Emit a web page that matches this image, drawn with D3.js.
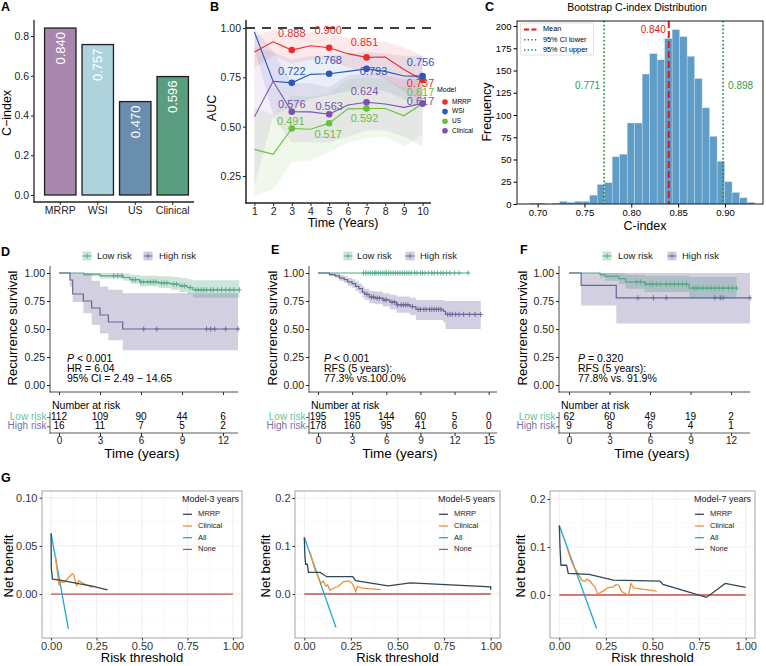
<!DOCTYPE html>
<html>
<head>
<meta charset="utf-8">
<script src="https://cdn.jsdelivr.net/npm/d3@7"></script>
<style>
  body { margin: 0; background: #fff; }
  svg { font-family: "Liberation Sans", Arial, Helvetica, sans-serif; }
</style>
</head>
<body>
<div id="app"></div>
<script>
/* global d3 */

// ---------- Data ----------
// A: C-index per model
const aModels = ['MRRP', 'WSI', 'US', 'Clinical'];
const aCindex = [0.840, 0.757, 0.470, 0.596];
const aColors = ['#a886ae', '#aed3dc', '#6a8ead', '#5a9d80'];

// B: time-dependent AUC
const years = [1, 2, 3, 4, 5, 6, 7, 8, 9, 10];
const aucMRRP = [0.878, 0.930, 0.888, 0.910, 0.900, 0.870, 0.851, 0.853, 0.790, 0.737];
const aucWSI = [0.980, 0.730, 0.722, 0.765, 0.768, 0.780, 0.793, 0.780, 0.757, 0.756];
const aucUS = [0.385, 0.360, 0.491, 0.487, 0.517, 0.590, 0.592, 0.592, 0.555, 0.617];
const aucClin = [0.550, 0.730, 0.576, 0.575, 0.563, 0.610, 0.624, 0.615, 0.598, 0.617];
const loMRRP = [0.80, 0.86, 0.82, 0.84, 0.84, 0.80, 0.78, 0.74, 0.68, 0.62];
const hiMRRP = [0.96, 0.99, 0.96, 0.98, 0.97, 0.95, 0.93, 0.93, 0.90, 0.86];
const loWSI = [0.90, 0.56, 0.60, 0.64, 0.66, 0.68, 0.70, 0.68, 0.64, 0.60];
const hiWSI = [1.00, 0.88, 0.84, 0.86, 0.86, 0.87, 0.88, 0.87, 0.86, 0.86];
const loUS = [0.15, 0.18, 0.32, 0.33, 0.37, 0.42, 0.44, 0.45, 0.40, 0.46];
const hiUS = [0.60, 0.56, 0.66, 0.65, 0.67, 0.74, 0.75, 0.74, 0.70, 0.76];
const loClin = [0.20, 0.55, 0.42, 0.42, 0.42, 0.45, 0.48, 0.48, 0.45, 0.40];
const hiClin = [0.90, 0.88, 0.72, 0.72, 0.70, 0.76, 0.77, 0.76, 0.74, 0.78];
const labelYears = [3, 5, 7, 10];
const bModels = ['MRRP', 'WSI', 'US', 'Clinical'];
const bColors = ['#ec2b2f', '#2b58b9', '#69bf3c', '#7c52ae'];

// C: bootstrap histogram (30 bins)
const binStart = 0.6916;
const binWidth = 0.008;
const binCounts = [1, 1, 0, 1, 3, 2, 3, 3, 10, 22, 24, 53, 56, 91, 91, 146, 169, 162, 186, 196,
  188, 166, 141, 108, 76, 48, 25, 13, 7, 2];
const cMean = 0.840;
const cLower = 0.771;
const cUpper = 0.898;

// D: Kaplan-Meier
const dLowT = [0, 1.8, 3.0, 4.7, 5.2, 5.9, 7.3, 8.2, 8.8, 9.4, 9.8];
const dLowS = [1.0, 0.99, 0.975, 0.96, 0.94, 0.92, 0.91, 0.90, 0.885, 0.87, 0.85];
const dLowLo = [1.0, 0.97, 0.95, 0.93, 0.905, 0.88, 0.865, 0.85, 0.83, 0.81, 0.78];
const dLowHi = [1.0, 1.0, 1.0, 0.995, 0.985, 0.975, 0.97, 0.965, 0.955, 0.945, 0.935];
const dLowCens = [4.0, 4.3, 4.6, 5.4, 5.6, 6.0, 6.2, 6.5, 6.7, 6.9, 7.1, 7.5, 7.7, 7.9, 8.4, 8.6,
  9.0, 9.2, 9.6, 10.0, 10.2, 10.4, 10.6, 10.8, 11.1, 11.3, 11.6, 11.9, 12.2, 12.5, 12.8, 13.2];
const dHighT = [0, 0.8, 1.0, 1.78, 2.39, 3.0, 3.61, 4.66];
const dHighS = [1.0, 0.9375, 0.8125, 0.75, 0.6875, 0.625, 0.5625, 0.5];
const dHighLo = [1.0, 0.88, 0.74, 0.64, 0.535, 0.46, 0.40, 0.31];
const dHighHi = [1.0, 1.0, 1.0, 1.0, 0.93, 0.88, 0.85, 0.82];
const dHighCens = [6.2, 7.15, 10.8, 11.1, 11.4, 12.2, 13.1];
const dRiskLow = [112, 109, 90, 44, 6];
const dRiskHigh = [16, 11, 7, 5, 2];

// E
const eLowT = [0];
const eLowS = [1.0];
const eLowCens = [4.0, 4.2, 4.4, 4.6, 4.8, 5.0, 5.1, 5.3, 5.5, 5.7, 5.9, 6.0, 6.2, 6.4, 6.6, 6.8,
  7.0, 7.2, 7.4, 7.6, 7.8, 8.0, 8.2, 8.5, 8.7, 9.0, 9.2, 9.4, 9.7, 10.0, 10.2, 10.5, 10.8, 11.0,
  11.3, 11.6, 12.0, 12.4, 13.2];
const eHighT = [0, 1.0, 1.5, 1.9, 2.3, 2.6, 3.0, 3.3, 3.6, 3.9, 4.1, 4.5, 5.0, 5.7, 6.3, 6.9, 8.1, 8.6, 11.0, 11.2];
const eHighS = [1.0, 0.985, 0.975, 0.955, 0.94, 0.92, 0.905, 0.88, 0.86, 0.83, 0.81, 0.785, 0.775, 0.76,
  0.74, 0.715, 0.70, 0.675, 0.66, 0.63];
const eHighLo = [1.0, 0.97, 0.955, 0.93, 0.91, 0.885, 0.865, 0.84, 0.815, 0.78, 0.76, 0.73, 0.72, 0.70,
  0.675, 0.645, 0.625, 0.58, 0.56, 0.50];
const eHighHi = [1.0, 1.0, 0.995, 0.98, 0.97, 0.955, 0.945, 0.925, 0.905, 0.88, 0.86, 0.84, 0.835, 0.82,
  0.805, 0.79, 0.78, 0.76, 0.755, 0.75];
const eHighCens = [4.3, 4.7, 4.9, 5.2, 5.4, 5.8, 6.0, 6.5, 6.7, 7.0, 7.3, 7.5, 7.7, 7.9, 8.3, 8.8, 9.0,
  9.3, 9.5, 9.8, 10.0, 10.2, 10.4, 10.6, 10.8, 11.4, 11.6, 11.8, 12.1, 12.4, 12.8, 13.3, 13.8, 14.3];
const eRiskLow = [195, 195, 144, 60, 5, 0];
const eRiskHigh = [178, 160, 95, 41, 6, 0];

// F
const fLowT = [0, 2.3, 2.7, 3.7, 4.2, 5.6, 8.9];
const fLowS = [1.0, 0.985, 0.97, 0.95, 0.92, 0.90, 0.865];
const fLowLo = [1.0, 0.96, 0.93, 0.90, 0.86, 0.83, 0.77];
const fLowHi = [1.0, 1.0, 1.0, 0.995, 0.985, 0.975, 0.965];
const fLowCens = [5.0, 5.3, 5.7, 6.0, 6.2, 6.5, 6.8, 7.2, 7.5, 7.8, 8.1, 8.4, 8.7, 9.2, 9.4, 9.6, 9.9,
  10.2, 10.5, 10.8, 11.1, 11.4, 11.8, 12.1, 12.4];
const fHighT = [0, 0.9, 3.5];
const fHighS = [1.0, 0.889, 0.778];
const fHighLo = [1.0, 0.71, 0.55];
const fHighHi = [1.0, 1.0, 1.0];
const fHighCens = [5.1, 6.25, 7.2, 10.8, 11.2, 11.4, 13.4];
const fRiskLow = [62, 60, 49, 19, 2];
const fRiskHigh = [9, 8, 6, 4, 1];

// G: decision curves
const g3MrrpX = [0, 0.001, 0.008, 0.05, 0.15, 0.22, 0.31];
const g3MrrpY = [0.063, 0.027, 0.0155, 0.0145, 0.011, 0.0085, 0.0045];
const g3ClinX = [0.024, 0.035, 0.043, 0.055, 0.07, 0.09, 0.105, 0.116, 0.125, 0.133, 0.14, 0.152, 0.17, 0.2, 0.23];
const g3ClinY = [0.040, 0.022, 0.010, 0.013, 0.012, 0.016, 0.019, 0.021, 0.020, 0.013, 0.009, 0.014, 0.012, 0.009, 0.007];
const g3AllX = [0, 0.095];
const g3AllY = [0.063, -0.036];

const g5MrrpX = [0, 0.003, 0.007, 0.016, 0.022, 0.085, 0.12, 0.26, 0.275, 0.45, 0.57, 1.0, 1.0];
const g5MrrpY = [0.118, 0.08, 0.062, 0.062, 0.045, 0.045, 0.036, 0.036, 0.028, 0.017, 0.023, 0.015, 0.009];
const g5ClinX = [0.03, 0.057, 0.066, 0.084, 0.093, 0.102, 0.115, 0.125, 0.138, 0.156, 0.183, 0.21, 0.237,
  0.255, 0.27, 0.276, 0.285, 0.31, 0.41];
const g5ClinY = [0.088, 0.05, 0.045, 0.026, 0.023, 0.027, 0.016, 0.019, 0.0075, 0.012, 0.016, 0.026, 0.027,
  0.023, 0.012, 0.005, 0.016, 0.012, 0.009];
const g5AllX = [0, 0.17];
const g5AllY = [0.118, -0.07];

const g7MrrpX = [0, 0.004, 0.009, 0.039, 0.048, 0.16, 0.29, 0.54, 0.556, 0.79, 0.89, 1.0];
const g7MrrpY = [0.145, 0.097, 0.062, 0.062, 0.045, 0.043, 0.031, 0.029, 0.022, -0.005, 0.024, 0.016];
const g7ClinX = [0.043, 0.066, 0.084, 0.1, 0.12, 0.138, 0.147, 0.165, 0.18, 0.19, 0.206, 0.219, 0.245, 0.258,
  0.29, 0.305, 0.32, 0.335, 0.353, 0.371, 0.384, 0.398, 0.523];
const g7ClinY = [0.097, 0.069, 0.055, 0.045, 0.031, 0.028, 0.033, 0.029, 0.021, 0.018, 0.001, 0.005, 0.010,
  0.015, 0.017, 0.022, 0.020, 0.007, 0.003, 0.0, 0.024, 0.015, 0.008];
const g7AllX = [0, 0.2];
const g7AllY = [0.145, -0.07];

const gNames = ['MRRP', 'Clinical', 'All', 'None'];
const gColors = ['#2e4756', '#e8923a', '#1fa5d8', '#c4504c'];

// ---------- Setup ----------
const svg = d3.select('#app').append('svg')
  .attr('width', 766)
  .attr('height', 666);

function txt(g, x, y, s, size, opts = {}) {
  return g.append('text')
    .attr('x', x).attr('y', y)
    .attr('font-size', size)
    .attr('text-anchor', opts.anchor || 'start')
    .attr('dominant-baseline', opts.baseline || 'middle')
    .attr('fill', opts.fill || '#000')
    .attr('font-weight', opts.weight || 'normal')
    .text(s);
}

function vtxt(g, x, y, s, size) {
  return g.append('text')
    .attr('transform', `translate(${x},${y}) rotate(-90)`)
    .attr('font-size', size)
    .attr('text-anchor', 'middle')
    .attr('dominant-baseline', 'middle')
    .text(s);
}

function hline(g, x1, x2, y, col, w) {
  g.append('line').attr('x1', x1).attr('x2', x2).attr('y1', y).attr('y2', y)
    .attr('stroke', col).attr('stroke-width', w);
}
function vline(g, x, y1, y2, col, w) {
  g.append('line').attr('x1', x).attr('x2', x).attr('y1', y1).attr('y2', y2)
    .attr('stroke', col).attr('stroke-width', w);
}

// axis helper: draws ticks + labels with d3 axis, removes domain
function axis(g, gen, tx, ty, size, col) {
  const a = g.append('g').attr('transform', `translate(${tx},${ty})`).call(gen);
  a.select('.domain').remove();
  a.selectAll('text').attr('font-size', size).attr('fill', col || '#000').attr('font-family', null);
  a.selectAll('line').attr('stroke', col || '#000');
  return a;
}

// Panel letters
[['A', 1, 11], ['B', 210, 11], ['C', 485, 11], ['D', 1, 256], ['E', 271, 254], ['F', 520, 254], ['G', 1, 482]]
  .forEach(([s, x, y]) => svg.append('text').attr('x', x).attr('y', y)
    .attr('font-size', 12.5).attr('font-weight', 'bold').text(s));

// ---------- Panel A ----------
(function drawA() {
  const g = svg.append('g');
  const x = d3.scaleBand().domain(aModels).range([38.5, 194.5]).padding(0.162);
  const y = d3.scaleLinear().domain([0, 0.8]).range([195, 36]);

  g.selectAll('rect.bar').data(aModels).join('rect')
    .attr('x', (d) => x(d))
    .attr('width', x.bandwidth())
    .attr('y', (d, i) => y(aCindex[i]))
    .attr('height', (d, i) => y(0) - y(aCindex[i]))
    .attr('fill', (d, i) => aColors[i])
    .attr('stroke', '#1e1e1e')
    .attr('stroke-width', 1.3);

  g.selectAll('text.val').data(aModels).join('text')
    .attr('transform', (d, i) => `translate(${x(d) + x.bandwidth() / 2 + 1},${y(aCindex[i]) + 4}) rotate(-90)`)
    .attr('text-anchor', 'end')
    .attr('dominant-baseline', 'middle')
    .attr('fill', '#fff')
    .attr('font-size', 13)
    .text((d, i) => aCindex[i].toFixed(3));

  vline(g, 34, 20, 202.5, '#222', 1.3);
  hline(g, 33.4, 194, 202, '#222', 1.3);
  axis(g, d3.axisLeft(y).tickValues([0, 0.2, 0.4, 0.6, 0.8]).tickFormat(d3.format('.1f')).tickSize(3).tickPadding(2),
    34, 0, 10.5, '#222');
  axis(g, d3.axisBottom(x).tickSize(3).tickPadding(2), 0, 202, 10.5, '#222');
  vtxt(g, 7.5, 113, 'C\u2212index', 12.5);
}());

// ---------- Panel B ----------
(function drawB() {
  const g = svg.append('g');
  const x = d3.scaleLinear().domain([0.55, 10.45]).range([246, 431]);
  const y = d3.scaleLinear().domain([0.25, 1]).range([176, 28]);
  const vals = [aucMRRP, aucWSI, aucUS, aucClin];
  const los = [loMRRP, loWSI, loUS, loClin];
  const his = [hiMRRP, hiWSI, hiUS, hiClin];

  // ribbons
  const area = d3.area()
    .x((d, i) => x(years[i]))
    .y0((d) => y(d[0]))
    .y1((d) => y(d[1]));
  [3, 2, 1, 0].forEach((k) => {
    g.append('path')
      .datum(years.map((yr, i) => [los[k][i], his[k][i]]))
      .attr('d', area)
      .attr('fill', bColors[k])
      .attr('fill-opacity', 0.1);
  });

  // reference line
  g.append('line')
    .attr('x1', 246).attr('x2', 431).attr('y1', y(1)).attr('y2', y(1))
    .attr('stroke', '#000').attr('stroke-width', 1.6).attr('stroke-dasharray', '9,7');

  const line = d3.line().x((d, i) => x(years[i])).y((d) => y(d));
  vals.forEach((v, k) => {
    g.append('path').datum(v).attr('d', line)
      .attr('fill', 'none').attr('stroke', bColors[k]).attr('stroke-width', 1.1);
    g.selectAll(null).data(labelYears).join('circle')
      .attr('cx', (d) => x(d))
      .attr('cy', (d) => y(v[years.indexOf(d)]))
      .attr('r', 3.3)
      .attr('fill', bColors[k]);
  });

  // value labels (repelled offsets)
  const offs = [
    [[0, -16], [-1, -17], [-2, -14], [-2, 4]],
    [[0, -11], [-1, -13], [7, 3], [-2, -13]],
    [[-1, -6], [-1, 12], [-2, 11], [-2, -10.5]],
    [[0, -7], [0, -7], [-2, -10], [-2, -1.5]],
  ];
  vals.forEach((v, k) => {
    labelYears.forEach((yr, j) => {
      const val = v[years.indexOf(yr)];
      txt(g, x(yr) + offs[k][j][0], y(val) + offs[k][j][1], val.toFixed(3), 11,
        { anchor: 'middle', fill: bColors[k] });
    });
  });

  vline(g, 246, 20, 203.5, '#222', 1.5);
  hline(g, 245.3, 431, 203, '#222', 1.5);
  axis(g, d3.axisLeft(y).tickValues([0.25, 0.5, 0.75, 1]).tickFormat(d3.format('.2f')).tickSize(3).tickPadding(2),
    246, 0, 10.5, '#222');
  axis(g, d3.axisBottom(x).tickValues(years).tickFormat(d3.format('d')).tickSize(3).tickPadding(2),
    0, 203, 10.5, '#222');
  vtxt(g, 213, 108, 'AUC', 12.5);
  txt(g, 343, 224, 'Time (Years)', 12.5, { anchor: 'middle' });

  // legend
  txt(g, 437, 90, 'Model', 7);
  bModels.forEach((m, i) => {
    g.append('circle').attr('cx', 445).attr('cy', 102 + i * 9.6).attr('r', 2.8).attr('fill', bColors[i]);
    txt(g, 452, 102 + i * 9.6, m, 6.5);
  });
}());

// ---------- Panel C ----------
(function drawC() {
  const g = svg.append('g');
  const x = d3.scaleLinear().domain([0.6780, 0.9406]).range([517, 763]);
  const y = d3.scaleLinear().domain([0, 205.6]).range([204, 21]);

  g.selectAll('rect.bin').data(binCounts).join('rect')
    .attr('x', (d, i) => x(binStart + i * binWidth))
    .attr('width', (d, i) => x(binStart + (i + 1) * binWidth) - x(binStart + i * binWidth))
    .attr('y', (d) => y(d))
    .attr('height', (d) => y(0) - y(d))
    .attr('fill', '#5f9cc8')
    .attr('stroke', '#d5e5f0')
    .attr('stroke-width', 0.4);

  g.append('line').attr('x1', x(cMean)).attr('x2', x(cMean)).attr('y1', 21).attr('y2', 204)
    .attr('stroke', '#e8141c').attr('stroke-width', 2).attr('stroke-dasharray', '7,3');
  [cLower, cUpper].forEach((v) => {
    g.append('line').attr('x1', x(v)).attr('x2', x(v)).attr('y1', 21).attr('y2', 204)
      .attr('stroke', '#1d8a3c').attr('stroke-width', 1.6).attr('stroke-dasharray', '1.6,2.2');
  });
  txt(g, x(cMean) - 3, 30, cMean.toFixed(3), 10, { anchor: 'end', fill: '#e8141c' });
  txt(g, x(cLower) - 4, 86, cLower.toFixed(3), 10, { anchor: 'end', fill: '#2ba04a' });
  txt(g, x(cUpper) + 5, 86, cUpper.toFixed(3), 10, { fill: '#2ba04a' });

  g.append('rect').attr('x', 517).attr('y', 21).attr('width', 246).attr('height', 183)
    .attr('fill', 'none').attr('stroke', '#000').attr('stroke-width', 0.9);

  axis(g, d3.axisLeft(y).tickValues(d3.range(0, 201, 25)).tickSize(3.5).tickPadding(2), 517, 0, 9.5);
  axis(g, d3.axisBottom(x).tickValues([0.70, 0.75, 0.80, 0.85, 0.90]).tickFormat(d3.format('.2f'))
    .tickSize(3.5).tickPadding(2), 0, 204, 9.5);
  vtxt(g, 488, 112, 'Frequency', 12.5);
  txt(g, 645, 227, 'C-index', 12.5, { anchor: 'middle' });
  txt(g, 637, 8, 'Bootstrap C-index Distribution', 10.5, { anchor: 'middle' });

  // legend
  g.append('rect').attr('x', 520.5).attr('y', 23).attr('width', 73).attr('height', 32)
    .attr('fill', '#fff').attr('fill-opacity', 0.85).attr('stroke', '#ccc').attr('stroke-width', 0.6).attr('rx', 1.5);
  const items = [['Mean', '#e8141c', '5,2.5', 1.8], ['95% CI lower', '#1d8a3c', '1.4,2.2', 1.5],
    ['95% CI upper', '#1d8a3c', '1.4,2.2', 1.5]];
  items.forEach(([s, col, dash, w], i) => {
    const yy = 29.5 + i * 10.2;
    g.append('line').attr('x1', 524).attr('x2', 538).attr('y1', yy).attr('y2', yy)
      .attr('stroke', col).attr('stroke-width', w).attr('stroke-dasharray', dash);
    txt(g, 543, yy, s, 7.3);
  });
}());

// ---------- KM panels ----------
function kmPanel(c) {
  const g = svg.append('g');
  const x = d3.scaleLinear().domain(c.xDomain).range(c.xRange);
  const y = d3.scaleLinear().domain([0, 1]).range([385, 273]);
  const [x0, x1] = c.xRange;

  const build = (grp) => {
    const pts = grp.times.map((t, i) => ({
      t, s: grp.surv[i], lo: grp.lo ? grp.lo[i] : grp.surv[i], hi: grp.hi ? grp.hi[i] : grp.surv[i],
    }));
    const last = pts[pts.length - 1];
    pts.push({ t: grp.end, s: last.s, lo: last.lo, hi: last.hi });
    return pts;
  };
  const stepAt = (grp, t) => {
    let s = grp.surv[0];
    grp.times.forEach((tt, i) => { if (tt <= t) s = grp.surv[i]; });
    return s;
  };

  c.groups.forEach((grp) => {
    if (!grp.lo) return;
    g.append('path').datum(build(grp))
      .attr('d', d3.area().curve(d3.curveStepAfter).x((d) => x(d.t)).y0((d) => y(d.lo)).y1((d) => y(d.hi)))
      .attr('fill', grp.color).attr('fill-opacity', 0.3);
  });
  c.groups.forEach((grp) => {
    g.append('path').datum(build(grp))
      .attr('d', d3.line().curve(d3.curveStepAfter).x((d) => x(d.t)).y((d) => y(d.s)))
      .attr('fill', 'none').attr('stroke', grp.color).attr('stroke-width', 1.2);
    g.selectAll(null).data(grp.censor).join('path')
      .attr('transform', (t) => `translate(${x(t)},${y(stepAt(grp, t))})`)
      .attr('d', 'M-2.2,0H2.2M0,-2.6V2.6')
      .attr('stroke', grp.color).attr('stroke-width', 0.9);
  });

  // axes
  const axCol = '#333';
  vline(g, x0, 266, 392.5, axCol, 0.9);
  hline(g, x0 - 0.4, x1, 392, axCol, 0.9);
  axis(g, d3.axisLeft(y).tickValues([0, 0.25, 0.5, 0.75, 1]).tickFormat(d3.format('.2f')).tickSize(3).tickPadding(2),
    x0, 0, 10.5, '#222');
  const bt = axis(g, d3.axisBottom(x).tickValues(c.ticks).tickSize(3), 0, 392, 10, axCol);
  bt.selectAll('text').remove();
  vtxt(g, c.yTitleX, 328, 'Recurrence survival', 13);

  // legend
  c.groups.forEach((grp, i) => {
    const lx = c.legend[i][0];
    g.append('rect').attr('x', lx - 4.5).attr('y', 251.5).attr('width', 9).attr('height', 9)
      .attr('fill', grp.color).attr('fill-opacity', 0.3);
    hline(g, lx - 4.5, lx + 4.5, 256, grp.color, 1);
    vline(g, lx, 253.5, 258.5, grp.color, 0.9);
    txt(g, c.legend[i][1], 256, grp.name, 9.5, { fill: '#222' });
  });

  // annotation
  const ax = c.annotX;
  const p = g.append('text').attr('x', ax).attr('y', 359).attr('font-size', 10.5).attr('dominant-baseline', 'middle');
  p.append('tspan').attr('font-style', 'italic').text('P');
  p.append('tspan').text(c.annot[0]);
  txt(g, ax, 369, c.annot[1], 10.5);
  txt(g, ax, 379.5, c.annot[2], 10.5);

  // risk table
  txt(g, x0 + 2, 406, 'Number at risk', 10.5);
  const rows = [[417.5, c.groups[0]], [426.8, c.groups[1]]];
  rows.forEach(([ry, grp]) => {
    hline(g, x0 - 3, x0, ry, axCol, 0.8);
    txt(g, x0 - 3.5, ry, grp.name, 10, { anchor: 'end', fill: grp.textColor });
    grp.risk.forEach((n, i) => txt(g, x(c.ticks[i]), ry, n, 10, { anchor: 'middle' }));
  });
  vline(g, x0, 412, 433.5, axCol, 0.8);
  hline(g, x0 - 0.4, x1, 433, axCol, 0.8);
  axis(g, d3.axisBottom(x).tickValues(c.ticks).tickFormat(d3.format('d')).tickSize(3).tickPadding(1),
    0, 433, 10, '#222');
  txt(g, c.timeX, 454, 'Time (years)', 13.5, { anchor: 'middle' });
}

const lowCol = '#56a886';
const highCol = '#6b6497';
const lowTxt = '#6dbf9b';
const highTxt = '#7a72a9';

kmPanel({
  xDomain: [-0.66, 13.1],
  xRange: [50, 238],
  ticks: [0, 3, 6, 9, 12],
  yTitleX: 14,
  timeX: 142,
  legend: [[87, 97], [148, 159]],
  annotX: 67,
  annot: [' < 0.001', 'HR = 6.04', '95% CI = 2.49 \u2212 14.65'],
  groups: [
    { name: 'Low risk', color: lowCol, textColor: lowTxt, times: dLowT, surv: dLowS, lo: dLowLo, hi: dLowHi, end: 13.2, censor: dLowCens, risk: dRiskLow },
    { name: 'High risk', color: highCol, textColor: highTxt, times: dHighT, surv: dHighS, lo: dHighLo, hi: dHighHi, end: 13.1, censor: dHighCens, risk: dRiskHigh },
  ],
});

kmPanel({
  xDomain: [-0.79, 15.73],
  xRange: [309, 497],
  ticks: [0, 3, 6, 9, 12, 15],
  yTitleX: 274,
  timeX: 400,
  legend: [[348, 357], [410, 420]],
  annotX: 324,
  annot: [' < 0.001', 'RFS (5 years):', '77.3% vs.100.0%'],
  groups: [
    { name: 'Low risk', color: lowCol, textColor: lowTxt, times: eLowT, surv: eLowS, end: 13.2, censor: eLowCens, risk: eRiskLow },
    { name: 'High risk', color: highCol, textColor: highTxt, times: eHighT, surv: eHighS, lo: eHighLo, hi: eHighHi, end: 14.3, censor: eHighCens, risk: eRiskHigh },
  ],
});

kmPanel({
  xDomain: [-0.74, 13.4],
  xRange: [559, 750],
  ticks: [0, 3, 6, 9, 12],
  yTitleX: 524,
  timeX: 652,
  legend: [[607, 618], [672, 682]],
  annotX: 578,
  annot: [' = 0.320', 'RFS (5 years):', '77.8% vs. 91.9%'],
  groups: [
    { name: 'Low risk', color: lowCol, textColor: lowTxt, times: fLowT, surv: fLowS, lo: fLowLo, hi: fLowHi, end: 12.4, censor: fLowCens, risk: fRiskLow },
    { name: 'High risk', color: highCol, textColor: highTxt, times: fHighT, surv: fHighS, lo: fHighLo, hi: fHighHi, end: 13.4, censor: fHighCens, risk: fRiskHigh },
  ],
});

// ---------- G panels ----------
function dcaPanel(c) {
  const g = svg.append('g');
  const [px0, px1] = c.xRange;
  const x = d3.scaleLinear().domain([-0.05, 1.05]).range(c.xRange);
  const y = d3.scaleLinear().domain(c.yDomain).range([638, 491]);

  // grid
  c.yMinor.forEach((v) => hline(g, px0, px1, y(v), '#f3f3f3', 0.5));
  [0.125, 0.375, 0.625, 0.875].forEach((v) => vline(g, x(v), 491, 638, '#f3f3f3', 0.5));
  c.yTicks.forEach((v) => hline(g, px0, px1, y(v), '#e6e6e6', 0.7));
  [0, 0.25, 0.5, 0.75, 1].forEach((v) => vline(g, x(v), 491, 638, '#e6e6e6', 0.7));

  const line = d3.line().x((d) => x(d[0])).y((d) => y(d[1]));
  const series = [
    [c.mx, c.my], [c.cx, c.cy], [c.ax, c.ay], [[0, 1], [0, 0]],
  ];
  [3, 2, 1, 0].forEach((k) => {
    const [xs, ys] = series[k];
    g.append('path').datum(xs.map((v, i) => [v, ys[i]]))
      .attr('d', line).attr('fill', 'none')
      .attr('stroke', gColors[k]).attr('stroke-width', 1.3);
  });

  g.append('rect').attr('x', px0).attr('y', 491).attr('width', px1 - px0).attr('height', 147)
    .attr('fill', 'none').attr('stroke', '#9a9a9a').attr('stroke-width', 0.9);

  axis(g, d3.axisLeft(y).tickValues(c.yTicks).tickFormat(d3.format(c.yFmt)).tickSize(2.5).tickPadding(2),
    px0, 0, 11, '#333');
  axis(g, d3.axisBottom(x).tickValues([0, 0.25, 0.5, 0.75, 1]).tickFormat(d3.format('.2f')).tickSize(2.5).tickPadding(1.5),
    0, 638, 11, '#333');
  vtxt(g, c.yTitleX, 566, 'Net benefit', 13);
  txt(g, (px0 + px1) / 2, 659, 'Risk threshold', 13, { anchor: 'middle' });

  // legend
  txt(g, c.legX, 500, c.title, 9, { fill: '#222' });
  gNames.forEach((n, i) => {
    const ly = 514.3 + i * 11.7;
    hline(g, c.legX + 1, c.legX + 10, ly, gColors[i], 1.3);
    txt(g, c.legX + 16, ly, n, 7.5, { fill: '#222' });
  });
}

dcaPanel({
  xRange: [42, 242],
  yDomain: [-0.0455, 0.107],
  yTicks: [0, 0.05, 0.10],
  yMinor: [-0.025, 0.025, 0.075],
  yFmt: '.2f',
  yTitleX: 10,
  legX: 182,
  title: 'Model-3 years',
  mx: g3MrrpX, my: g3MrrpY, cx: g3ClinX, cy: g3ClinY, ax: g3AllX, ay: g3AllY,
});
dcaPanel({
  xRange: [295, 500],
  yDomain: [-0.0917, 0.2146],
  yTicks: [0, 0.1, 0.2],
  yMinor: [-0.05, 0.05, 0.15],
  yFmt: '.1f',
  yTitleX: 267,
  legX: 438,
  title: 'Model-5 years',
  mx: g5MrrpX, my: g5MrrpY, cx: g5ClinX, cy: g5ClinY, ax: g5AllX, ay: g5AllY,
});
dcaPanel({
  xRange: [550, 755],
  yDomain: [-0.0896, 0.2167],
  yTicks: [0, 0.1, 0.2],
  yMinor: [-0.05, 0.05, 0.15],
  yFmt: '.1f',
  yTitleX: 522,
  legX: 694,
  title: 'Model-7 years',
  mx: g7MrrpX, my: g7MrrpY, cx: g7ClinX, cy: g7ClinY, ax: g7AllX, ay: g7AllY,
});
</script>
</body>
</html>
